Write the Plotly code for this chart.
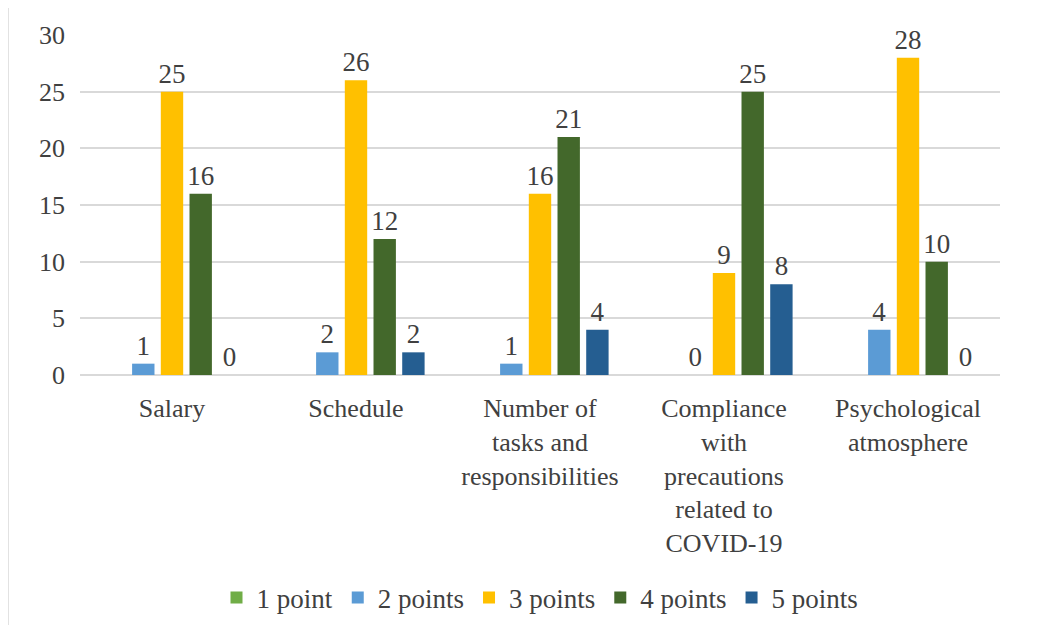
import plotly.graph_objects as go

categories = ["Salary", "Schedule", "Number of<br>tasks and<br>responsibilities",
              "Compliance<br>with<br>precautions<br>related to<br>COVID-19",
              "Psychological<br>atmosphere"]
series_names = ["1 point", "2 points", "3 points", "4 points", "5 points"]
p1 = [None, None, None, None, None]
p2 = [1, 2, 1, 0, 4]
p3 = [25, 26, 16, 9, 28]
p4 = [16, 12, 21, 25, 10]
p5 = [0, 2, 4, 8, 0]
colors = ["#70ad47", "#5b9bd5", "#ffc000", "#43682b", "#255e91"]
y_ticks = [0, 5, 10, 15, 20, 25, 30]

FONT = '"Liberation Serif", "Times New Roman", Tinos, "DejaVu Serif", serif'
OFF = 8  # default body margin in the page
W, H = 1038 - 2 * OFF, 633 - 2 * OFF
L, R, T, B = 80, 1000, 35, 375
ml, mt = L - OFF, T - OFF
mr = W - (R - OFF)
mb = H - (B - OFF)
pw, ph = R - L, B - T

fig = go.Figure()
for name, vals, c in zip(series_names, [p1, p2, p3, p4, p5], colors):
    fig.add_trace(go.Bar(
        x=categories, y=vals, name=name, marker_color=c,
        marker_line_width=0,
        text=[("" if v is None else str(v)) for v in vals],
        textposition="outside", cliponaxis=False, constraintext="none",
        textfont=dict(family=FONT, size=27, color="#404040"),
    ))

def px_x(p):
    return (p - L) / pw

def px_y(p):
    return (B - p) / ph

fig.add_shape(type="rect", xref="paper", yref="paper",
              x0=px_x(8), x1=px_x(1040), y0=px_y(640), y1=px_y(5),
              line=dict(color="#d9d9d9", width=1.5), fillcolor="rgba(0,0,0,0)", layer="below")

fig.update_layout(
    width=W, height=H,
    margin=dict(l=ml, r=mr, t=mt, b=mb, autoexpand=False),
    paper_bgcolor="white", plot_bgcolor="white",
    barmode="group", bargap=0.22, bargroupgap=0.22,
    font=dict(family=FONT, color="#404040", size=26),
    showlegend=True,
    legend=dict(orientation="h", x=0.5, xanchor="center", y=px_y(598), yanchor="middle",
                font=dict(family=FONT, size=27, color="#404040"),
                itemwidth=30, traceorder="normal"),
    xaxis=dict(showgrid=False, showline=False, ticks="", ticklabelstandoff=15,
               tickfont=dict(family=FONT, size=26, color="#404040")),
    yaxis=dict(range=[0, 30], tickvals=y_ticks, showgrid=True, gridcolor="#d9d9d9", gridwidth=1.5,
               zeroline=True, zerolinecolor="#d9d9d9", zerolinewidth=1.5,
               showline=False, ticks="", ticklen=0, ticklabelstandoff=14,
               tickfont=dict(family=FONT, size=26, color="#404040")),
)

fig.write_html("out.html")
